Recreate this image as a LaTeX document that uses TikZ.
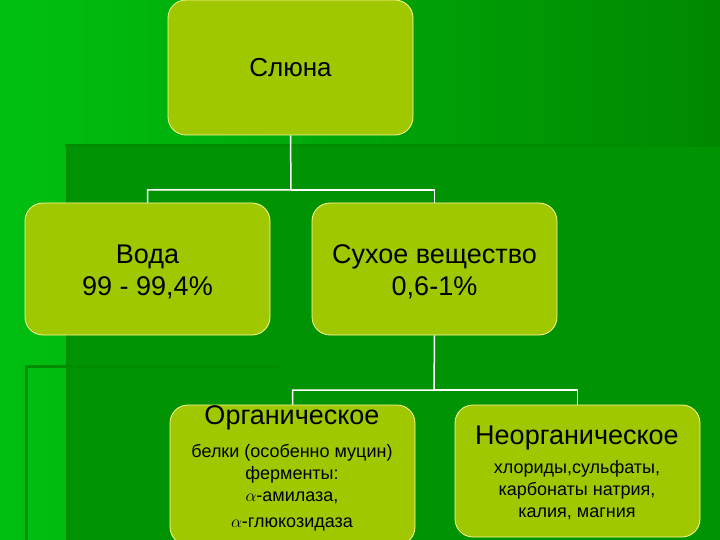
\documentclass[tikz,border=0pt]{standalone}
\usepackage{fontspec}
\setmainfont{Liberation Sans}
\begin{document}
\begin{tikzpicture}[x=1pt,y=-1pt,
  box/.style={draw=yellow!40!white,line width=0.8pt,fill=boxg,rounded corners=18pt},
  conn/.style={draw=white,line width=1.5pt},
  deco/.style={draw=black!45!green,line width=3pt}]
\definecolor{boxg}{HTML}{A0C800}
\definecolor{bgl}{HTML}{00C010}
\definecolor{bgd}{HTML}{008800}
\useasboundingbox (0,0) rectangle (720,540);
\shade[left color=bgl,right color=bgd,shading angle=90] (0,0) rectangle (720,540);
\fill[bgd!80!bgl] (67,147) rectangle (720,540);
\draw[deco] (65,146) -- (640,146);
\draw[deco] (67,146) -- (67,540);
\draw[deco] (25,366) -- (280,366);
\draw[deco] (26,366) -- (26,540);
\node[box,minimum width=245pt,minimum height=135pt] (s) at (290.5,67.5) {};
\node[box,minimum width=245pt,minimum height=132pt] (v) at (147.5,269) {};
\node[box,minimum width=245pt,minimum height=132pt] (d) at (434.5,269) {};
\node[box,minimum width=245pt,minimum height=140pt] (o) at (292.5,475) {};
\node[box,minimum width=245pt,minimum height=132pt] (n) at (577.5,471) {};
\node at (s.center) [font=\fontsize{26}{30}\selectfont] {Слюна};
\node at (v.center) [yshift=-3pt,align=center,font=\fontsize{27}{32}\selectfont] {Вода\\99 - 99,4\%};
\node at (d.center) [yshift=-3pt,align=center,font=\fontsize{27}{32}\selectfont] {Сухое вещество\\0,6-1\%};
\node at (292,418) [font=\fontsize{27}{30}\selectfont] {Органическое};
\node at (292,488) [align=center,font=\fontsize{18}{22}\selectfont] {белки (особенно муцин)\\ферменты:\\$\alpha$-амилаза,\\[4pt]$\alpha$-глюкозидаза};
\node at (577,438) [font=\fontsize{27}{30}\selectfont] {Неорганическое};
\node at (577,490) [align=center,font=\fontsize{18}{22}\selectfont] {хлориды,сульфаты,\\карбонаты натрия,\\калия, магния};
\draw[conn] (s.south) -- (291,190) -| (v.north);
\draw[conn] (291,190) -| (d.north);
\draw[conn] (d.south) -- (434,390) -| (o.north);
\draw[conn] (434,390) -| (n.north);
\end{tikzpicture}
\end{document}
